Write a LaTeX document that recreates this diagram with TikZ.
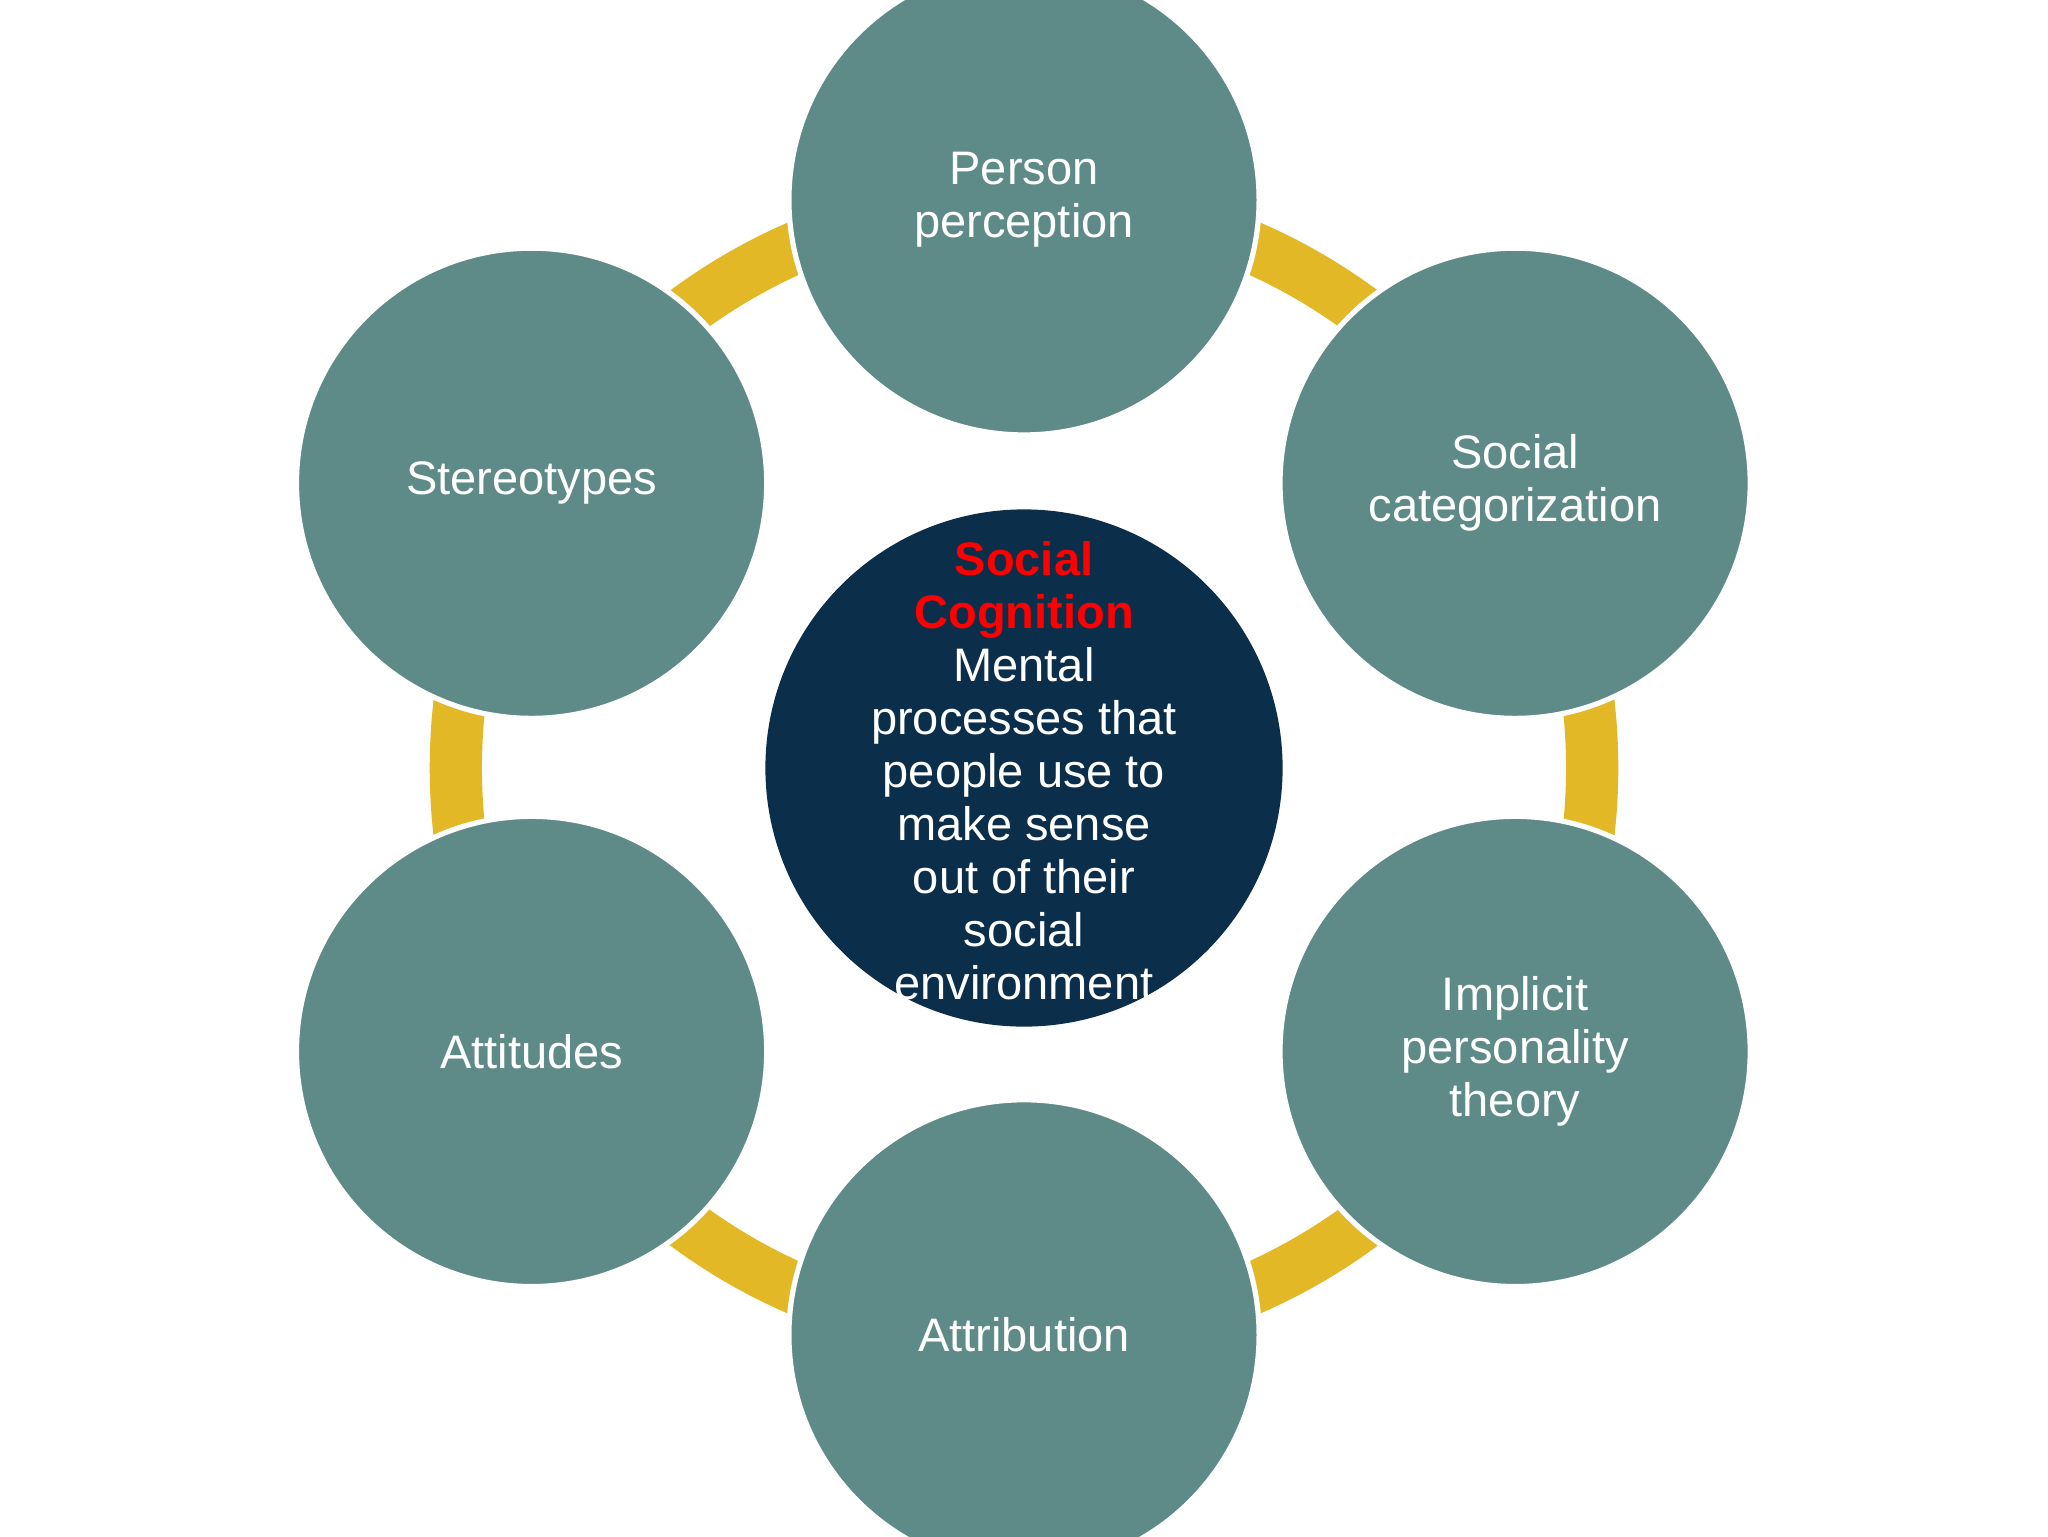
\documentclass[tikz,border=0pt]{standalone}
\usepackage{fontspec}
\setmainfont{Liberation Sans}
\definecolor{teal}{HTML}{5E8B87}
\definecolor{navy}{HTML}{0B2E4A}
\definecolor{gold}{HTML}{E3B826}
\begin{document}
\begin{tikzpicture}[x=1pt,y=-1pt,
  outer/.style={circle,fill=teal,draw=white,line width=4pt,minimum size=360pt,inner sep=0pt,text=white,align=center,font=\fontsize{36}{40.5}\selectfont}]
\useasboundingbox (0,0) rectangle (1568,1176);
\fill[white] (0,0) rectangle (1568,1176);
\coordinate (c) at (784,588);
\draw[gold,line width=40pt] (c) circle (435pt);
\node[outer] (pp) at (784,153) {Person\\perception};
\node[outer] (sc) at (1160,370) {Social\\categorization};
\node[outer] (ip) at (1160,805) {Implicit\\personality\\theory};
\node[outer] (at) at (784,1022) {Attribution};
\node[outer] (att) at (407,805) {Attitudes};
\node[outer] (st) at (407,370) {Stereotypes};
\node[circle,fill=navy,minimum size=396pt,inner sep=0pt] (core) at (c) {};
\node[text=white,align=center,font=\fontsize{36}{40.5}\selectfont] (txt) at (784,590)
 {\textcolor{red}{\textbf{Social}}\\\textcolor{red}{\textbf{Cognition}}\\Mental\\processes that\\people use to\\make sense\\out of their\\social\\environment};
\end{tikzpicture}
\end{document}
